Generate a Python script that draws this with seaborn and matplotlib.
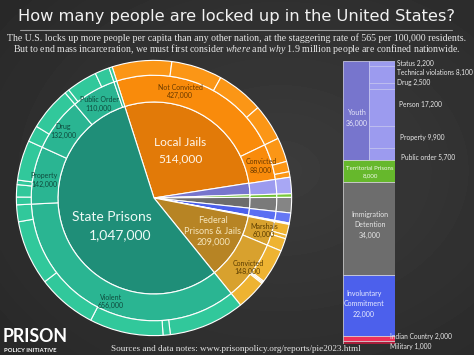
import numpy as np
import matplotlib
matplotlib.use("Agg")
import matplotlib.pyplot as plt
import seaborn as sns

# ---- data (clockwise from the top of the pie) ----
places = ["Local Jails", "Youth", "Territorial Prisons", "Immigration Detention",
          "Involuntary Commitment", "Indian Country", "Military",
          "Federal Prisons & Jails", "State Prisons"]
place_counts = [514000, 36000, 8000, 34000, 22000, 2000, 1000, 209000, 1047000]

jail_status = ["Not Convicted", "Convicted"]
jail_counts = [427000, 88000]
federal_status = ["Marshals", "Convicted"]
federal_counts = [60000, 148000]
state_offenses = ["Violent", "Property", "Drug", "Public Order", "Other"]
state_counts = [656000, 142000, 132000, 110000, 7000]

# finer breakdown in the outer ring
jail_detail = [131000, 112000, 104000, 80000, 53000, 23000, 12000]
federal_detail = [24000, 8000, 28000, 76000, 3000, 3000, 66000]
state_detail = [167000, 16000, 162000, 131000, 143000, 37000,
                17000, 27000, 10000, 88000,
                36000, 96000,
                10000, 68000, 32000,
                7000]

youth_offenses = ["Status", "Technical violations", "Drug", "Person",
                  "Property", "Public order"]
youth_counts = [2200, 8100, 2500, 17200, 9900, 5700]

# ---- colours: inner, middle, outer ----
pal = {
    "Local Jails": ("#e27a08", "#f98b0b", "#fb9616"),
    "Youth": ("#7775cd", "#9c9bef", "#a8a7f4"),
    "Territorial Prisons": ("#66b82c", "#70c234", "#78c93a"),
    "Immigration Detention": ("#6d6d6d", "#7a7a7a", "#858585"),
    "Involuntary Commitment": ("#4c60ec", "#5a6ef2", "#6577f4"),
    "Indian Country": ("#ee3158", "#f03c62", "#f2486b"),
    "Military": ("#a81e3a", "#b42541", "#bd2d48"),
    "Federal Prisons & Jails": ("#b78424", "#d8a12e", "#eeb332"),
    "State Prisons": ("#1f8e78", "#2ab592", "#31c89b"),
}
small = places[1:7]

sns.set_theme(style="white")
plt.rcParams["font.family"] = ["Lato", "DejaVu Sans"]
plt.rcParams["mathtext.fontset"] = "custom"
plt.rcParams["mathtext.it"] = "Liberation Serif:italic"
plt.rcParams["mathtext.rm"] = "Liberation Serif"

W, H = 474, 355
fig = plt.figure(figsize=(W / 100, H / 100), dpi=100)
fig.patch.set_facecolor("#323232")

# soft radial background, a little lighter towards the middle right
ax_bg = fig.add_axes([0, 0, 1, 1], zorder=-1)
yy, xx = np.mgrid[0:H, 0:W]
dist = np.hypot((xx - 280) / W, (yy - 170) / H)
shade = 0.235 - 0.1 * dist
ax_bg.imshow(shade, cmap="gray", vmin=0, vmax=1, aspect="auto")
ax_bg.axis("off")

# ---- the pie ----
cx, cy, R = 154, 198, 139
ax = fig.add_axes([(cx - R) / W, (H - cy - R) / H, 2 * R / W, 2 * R / H])
r_in, r_mid = 97 / R, 124 / R
edge = dict(edgecolor="white", linewidth=0.8)
start = 107.7

ax.pie(place_counts, radius=r_in, startangle=start, counterclock=False,
       colors=[pal[p][0] for p in places], wedgeprops=edge)

mid_vals = jail_counts + place_counts[1:7] + federal_counts + state_counts
mid_cols = ([pal["Local Jails"][1]] * 2 + [pal[p][1] for p in small]
            + [pal["Federal Prisons & Jails"][1]] * 2 + [pal["State Prisons"][1]] * 5)
ax.pie(mid_vals, radius=r_mid, startangle=start, counterclock=False,
       colors=mid_cols, wedgeprops=dict(width=r_mid - r_in, **edge))

out_vals = jail_detail + place_counts[1:7] + federal_detail + state_detail
out_cols = ([pal["Local Jails"][2]] * len(jail_detail) + [pal[p][2] for p in small]
            + [pal["Federal Prisons & Jails"][2]] * len(federal_detail)
            + [pal["State Prisons"][2]] * len(state_detail))
ax.pie(out_vals, radius=1, startangle=start, counterclock=False,
       colors=out_cols, wedgeprops=dict(width=1 - r_mid, **edge))
ax.set_xlim(-1.01, 1.01)
ax.set_ylim(-1.01, 1.01)
ax.axis("off")

# ---- the stacked column on the right ----
col_top, col_bot = 61, 344
axb = fig.add_axes([343 / W, (H - col_bot) / H, 52 / W, (col_bot - col_top) / H])
total_small = sum(place_counts[1:7])
bottom = 0
for p, v in zip(small, place_counts[1:7]):
    if p == "Youth":
        axb.bar(0.5, v, width=1, bottom=bottom, color=pal[p][0],
                edgecolor="#d8d8f0", linewidth=0.5, align="center")
        scale = v / sum(youth_counts)
        b = bottom
        for yv in youth_counts:
            axb.bar(1.5, yv * scale, width=1, bottom=b, color=pal[p][1],
                    edgecolor="#c8c8f4", linewidth=0.5)
            b += yv * scale
    else:
        axb.bar(1, v, width=2, bottom=bottom, color=pal[p][0],
                edgecolor="#dddddd", linewidth=0.5)
    bottom += v
axb.set_xlim(0, 2)
axb.set_ylim(total_small, 0)
axb.axis("off")

# ---- text overlay in pixel coordinates ----
t = fig.add_axes([0, 0, 1, 1], zorder=10)
t.set_xlim(0, W)
t.set_ylim(H, 0)
t.axis("off")
t.patch.set_alpha(0)

t.text(237, 17, "How many people are locked up in the United States?",
       ha="center", va="center", fontsize=11.7, color="#f2f2f2",
       family="DejaVu Sans")
t.plot([20, 452], [30, 30], color="#9a9a9a", lw=0.8)
serif = "Liberation Serif"
t.text(237, 38.5, "The U.S. locks up more people per capita than any other nation, "
       "at the staggering rate of 565 per 100,000 residents.",
       ha="center", va="center", fontsize=7.1, color="#e6e6e6", family=serif)
t.text(237, 49, "But to end mass incarceration, we must first consider "
       r"$\mathit{where}$ and $\mathit{why}$ 1.9 million people are confined nationwide.",
       ha="center", va="center", fontsize=7.1, color="#e6e6e6", family=serif)

# big labels
t.text(180, 142, "Local Jails", ha="center", va="center", fontsize=8.6, color="#fff6ea")
t.text(181, 159, "514,000", ha="center", va="center", fontsize=8.6, color="#fff6ea")
t.text(112, 217, "State Prisons", ha="center", va="center", fontsize=10, color="#eefaf6")
t.text(120, 235, "1,047,000", ha="center", va="center", fontsize=10, color="#eefaf6")
t.text(213, 231, "Federal\nPrisons & Jails\n209,000", ha="center", va="center",
       fontsize=6.6, color="#f6e6bc", linespacing=1.25)

# middle ring labels
small_lbl = dict(ha="center", va="center", fontsize=5, linespacing=1.3)
t.text(180, 91.5, "Not Convicted\n427,000", color="#6a3a00", **small_lbl)
t.text(99, 104, "Public Order\n110,000", color="#0f4a3d", **small_lbl)
t.text(63, 131, "Drug\n132,000", color="#0f4a3d", **small_lbl)
t.text(44, 180, "Property\n142,000", color="#0f4a3d", **small_lbl)
t.text(111, 301.5, "Violent\n656,000", color="#0f4a3d", **small_lbl)
t.text(261, 166, "Convicted\n88,000", color="#6a3a00", **small_lbl)
t.text(264, 230.5, "Marshals\n60,000", color="#5a3c00", **small_lbl)
t.text(248, 267.5, "Convicted\n148,000", color="#5a3c00", **small_lbl)

# column labels
col_lbl = dict(ha="center", va="center", fontsize=5, linespacing=1.5)
t.text(357, 118, "Youth\n36,000", color="#e8e8fa", **col_lbl)
t.text(370, 172, "Territorial Prisons\n8,000", color="#f0f8e8", **dict(col_lbl, fontsize=4.4))
t.text(370, 225, "Immigration\nDetention\n34,000", color="#e6e6e6", **col_lbl)
t.text(364, 304, "Involuntary\nCommitment\n22,000", color="#e8ecff", **col_lbl)

side = dict(ha="left", va="center", fontsize=4.8, color="#e8e8e8")
youth_y = [63, 72, 82, 104, 137, 157]
youth_x = [397, 397, 397, 399, 400, 401]
for name, val, x, y in zip(youth_offenses, youth_counts, youth_x, youth_y):
    t.text(x, y, f"{name} {val:,}", **side)
t.text(390, 336, f"{places[5]} {place_counts[5]:,}", **side)
t.text(390, 346, f"{places[6]} {place_counts[6]:,}", **side)

# footer
t.text(3, 337, "PRISON", ha="left", va="center", fontsize=12.8, weight="bold",
       color="white")
t.text(4, 351, "POLICY INITIATIVE", ha="left", va="center", fontsize=4.2,
       weight="bold", color="white")
t.text(236, 349, "Sources and data notes: www.prisonpolicy.org/reports/pie2023.html",
       ha="center", va="center", fontsize=6.6, color="#e6e6e6", family=serif)

fig.savefig("out.png", dpi=100, facecolor=fig.get_facecolor())
